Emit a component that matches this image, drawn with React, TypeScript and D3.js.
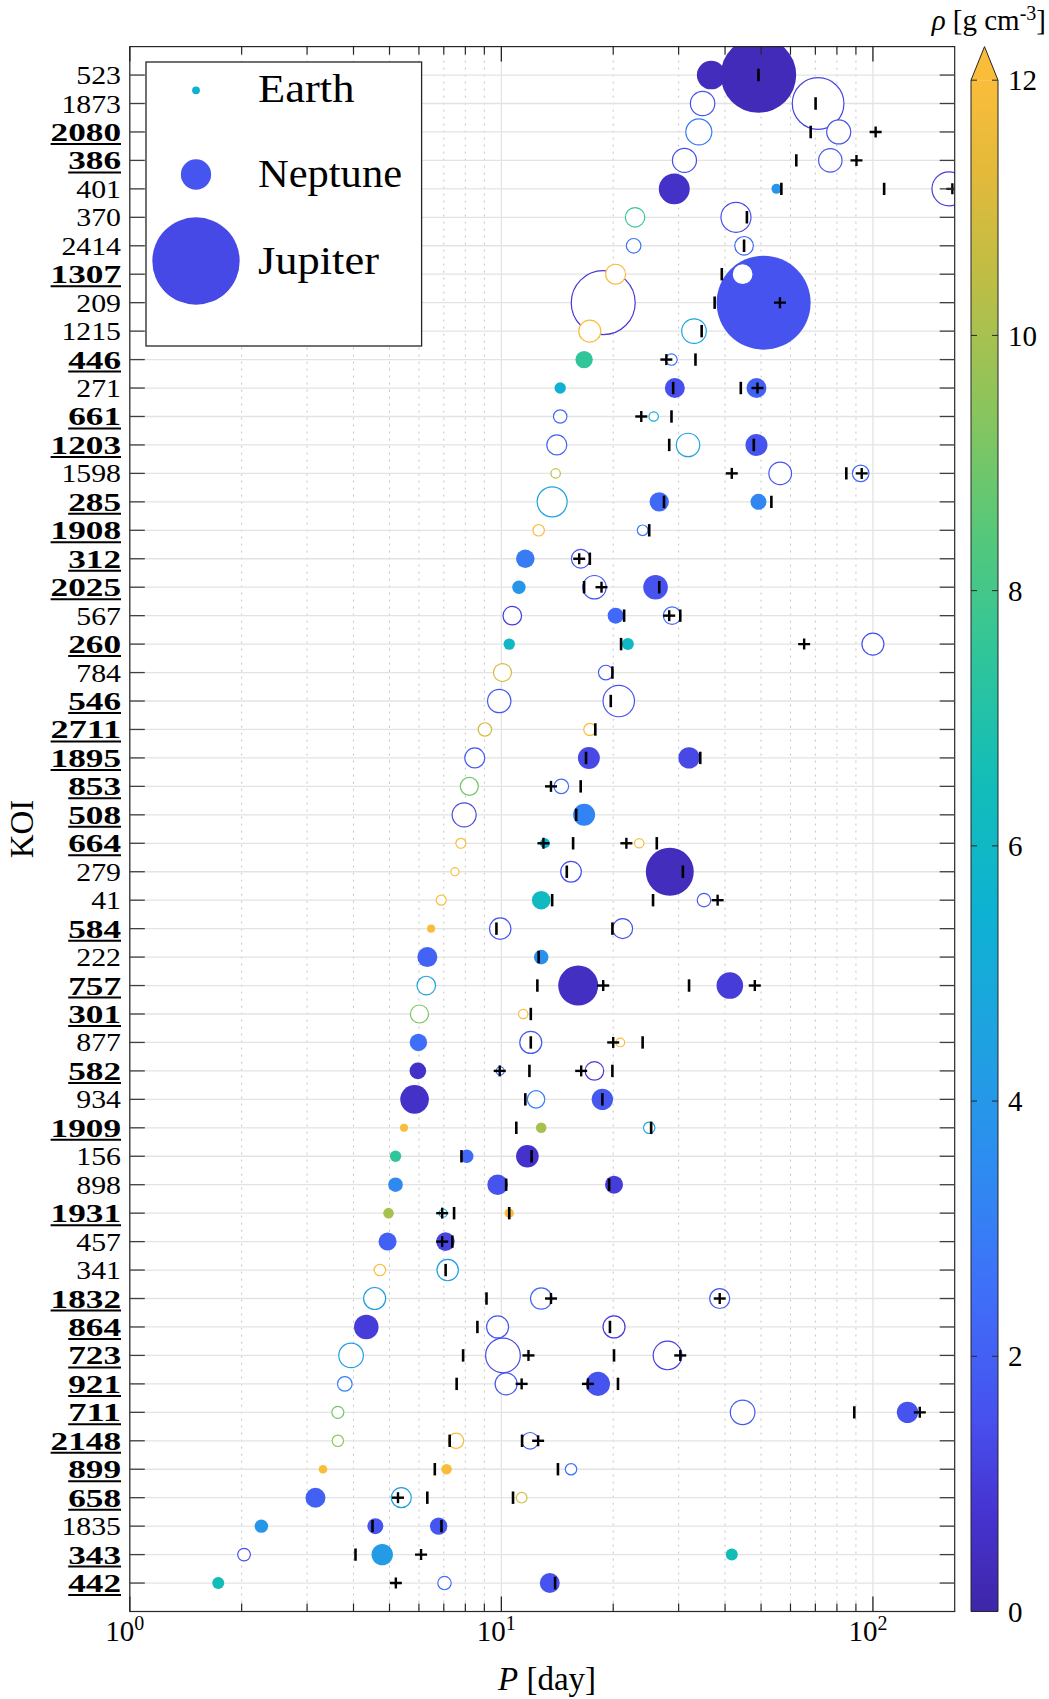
import React from 'react';
import * as d3 from 'd3';

const kois = ['523','1873','2080','386','401','370','2414','1307','209','1215','446','271','661','1203','1598','285','1908','312','2025','567','260','784','546','2711','1895','853','508','664','279','41','584','222','757','301','877','582','934','1909','156','898','1931','457','341','1832','864','723','921','711','2148','899','658','1835','343','442'];
const boldKois = ['2080','386','1307','446','661','1203','285','1908','312','2025','260','546','2711','1895','853','508','664','584','757','301','582','1909','1931','1832','864','723','921','711','2148','899','658','343','442'];

// [KOI, period (day), radius (R_earth), density (g cm^-3), filled (1) / open (0)]
const planets: [string, number, number, number, number][] = [
  ['523', 36.7, 3.67, 0.4, 1], ['523', 49.2, 9.67, 0.3, 1],
  ['1873', 34.8, 3.13, 1.5, 0], ['1873', 71.2, 6.62, 1.2, 0],
  ['2080', 34.0, 3.33, 2.8, 0], ['2080', 80.9, 3.08, 1.6, 0],
  ['386', 31.1, 3.08, 1.4, 0], ['386', 76.8, 3.0, 1.6, 0],
  ['401', 29.2, 3.97, 0.6, 1], ['401', 55.0, 1.28, 4.0, 1], ['401', 160.2, 4.36, 1.0, 0],
  ['370', 22.9, 2.49, 7.6, 0], ['370', 42.8, 3.85, 1.4, 0],
  ['2414', 22.7, 1.87, 2.6, 0], ['2414', 45.0, 2.38, 2.2, 0],
  ['1307', 20.3, 2.56, 12.5, 0], ['1307', 44.6, 2.69, 1.6, 0],
  ['209', 18.8, 8.2, 0.9, 0], ['209', 50.8, 12.05, 1.6, 1],
  ['1215', 17.3, 2.82, 12.5, 0], ['1215', 33.0, 3.15, 4.6, 0],
  ['446', 16.7, 2.23, 7.5, 1], ['446', 28.7, 1.46, 2.6, 0],
  ['271', 14.4, 1.46, 5.5, 1], ['271', 29.3, 2.56, 1.5, 1], ['271', 48.6, 2.56, 2.0, 1],
  ['661', 14.4, 1.72, 2.4, 0], ['661', 25.7, 1.2, 5.2, 0],
  ['1203', 14.1, 2.56, 2.2, 0], ['1203', 31.8, 3.0, 4.5, 0], ['1203', 48.6, 2.82, 1.6, 1],
  ['1598', 14.0, 1.2, 10.5, 0], ['1598', 56.3, 2.9, 1.6, 0], ['1598', 92.7, 2.13, 2.2, 0],
  ['285', 13.7, 3.85, 4.5, 0], ['285', 26.6, 2.49, 2.3, 1], ['285', 49.2, 2.05, 3.3, 1],
  ['1908', 12.6, 1.46, 12.5, 0], ['1908', 24.0, 1.36, 2.8, 0],
  ['312', 11.6, 2.38, 2.9, 1], ['312', 16.35, 2.38, 1.6, 0],
  ['2025', 11.15, 1.72, 4.0, 1], ['2025', 17.8, 3.0, 1.8, 0], ['2025', 26.0, 3.15, 1.6, 1],
  ['567', 10.7, 2.38, 1.0, 0], ['567', 20.3, 2.05, 2.3, 1], ['567', 28.8, 2.23, 2.2, 0],
  ['260', 10.5, 1.46, 6.0, 1], ['260', 21.9, 1.54, 6.0, 1], ['260', 100, 2.82, 1.5, 0],
  ['784', 10.07, 2.31, 11.0, 0], ['784', 19.1, 1.87, 1.8, 0],
  ['546', 9.87, 3.0, 1.8, 0], ['546', 20.7, 4.03, 1.6, 0],
  ['2711', 9.03, 1.72, 10.8, 0], ['2711', 17.3, 1.54, 12.0, 0],
  ['1895', 8.48, 2.56, 1.8, 0], ['1895', 17.2, 2.82, 1.3, 1], ['1895', 32.0, 2.74, 1.3, 1],
  ['853', 8.2, 2.31, 9.0, 0], ['853', 14.5, 1.87, 2.4, 0],
  ['508', 7.94, 3.08, 1.3, 0], ['508', 16.7, 2.82, 3.2, 1],
  ['664', 7.78, 1.28, 12.5, 0], ['664', 13.1, 1.28, 5.5, 1], ['664', 23.5, 1.2, 12.5, 0],
  ['279', 7.5, 1.03, 12.5, 0], ['279', 15.4, 2.64, 1.5, 0], ['279', 28.4, 6.15, 0.4, 1],
  ['41', 6.89, 1.28, 12.5, 0], ['41', 12.8, 2.38, 6.2, 1], ['41', 35.1, 1.72, 1.8, 0],
  ['584', 6.47, 1.03, 12.5, 1], ['584', 9.93, 2.74, 1.8, 0], ['584', 21.2, 2.56, 1.5, 0],
  ['222', 6.32, 2.56, 2.1, 1], ['222', 12.8, 1.87, 3.7, 1],
  ['757', 6.28, 2.38, 4.5, 0], ['757', 16.1, 5.13, 0.5, 1], ['757', 41.2, 3.41, 1.0, 1],
  ['301', 6.02, 2.31, 9.2, 0], ['301', 11.45, 1.2, 12.5, 0],
  ['877', 5.98, 2.23, 2.5, 1], ['877', 12.0, 2.82, 1.8, 0], ['877', 20.9, 1.1, 12.5, 0],
  ['582', 5.96, 2.13, 0.6, 1], ['582', 9.93, 1.03, 2.2, 0], ['582', 17.8, 2.38, 0.9, 0],
  ['934', 5.84, 3.67, 0.6, 1], ['934', 12.4, 2.23, 3.0, 0], ['934', 18.7, 2.74, 1.8, 1],
  ['1909', 5.47, 1.03, 12.5, 1], ['1909', 12.8, 1.36, 10.0, 1], ['1909', 25.0, 1.46, 4.5, 0],
  ['156', 5.19, 1.46, 7.5, 1], ['156', 8.07, 1.72, 2.3, 1], ['156', 11.75, 2.9, 0.7, 1],
  ['898', 5.19, 1.87, 3.4, 1], ['898', 9.77, 2.64, 1.6, 1], ['898', 20.1, 2.31, 1.0, 1],
  ['1931', 4.97, 1.36, 10.0, 1], ['1931', 6.97, 1.03, 5.5, 0], ['1931', 10.5, 1.2, 12.5, 1],
  ['457', 4.94, 2.31, 2.0, 1], ['457', 7.07, 2.38, 1.2, 1],
  ['341', 4.71, 1.46, 12.5, 0], ['341', 7.17, 2.74, 4.3, 0],
  ['1832', 4.56, 2.82, 4.3, 0], ['1832', 12.8, 2.74, 2.3, 0], ['1832', 38.7, 2.56, 1.8, 0],
  ['864', 4.33, 3.15, 1.0, 1], ['864', 9.77, 2.82, 1.8, 0], ['864', 20.1, 2.82, 0.9, 0],
  ['723', 3.94, 3.15, 4.3, 0], ['723', 10.1, 4.44, 1.3, 0], ['723', 28.0, 3.67, 1.1, 0],
  ['921', 3.79, 1.87, 3.0, 0], ['921', 10.3, 2.82, 1.8, 0], ['921', 18.2, 3.08, 1.6, 1],
  ['711', 3.63, 1.54, 9.0, 0], ['711', 44.6, 3.15, 1.8, 0], ['711', 123.9, 2.74, 1.6, 1],
  ['2148', 3.63, 1.46, 9.5, 0], ['2148', 7.55, 1.97, 12.5, 0], ['2148', 11.95, 2.13, 1.8, 0],
  ['899', 3.31, 1.1, 12.5, 1], ['899', 7.12, 1.36, 12.5, 1], ['899', 15.4, 1.46, 2.6, 0],
  ['658', 3.16, 2.56, 2.0, 1], ['658', 5.38, 2.56, 4.3, 0], ['658', 11.34, 1.36, 11.0, 0],
  ['1835', 2.26, 1.72, 4.0, 1], ['1835', 4.58, 2.05, 1.7, 1], ['1835', 6.78, 2.23, 1.7, 1],
  ['343', 2.03, 1.62, 1.4, 0], ['343', 4.78, 2.74, 4.2, 1], ['343', 41.7, 1.54, 6.5, 1],
  ['442', 1.73, 1.54, 6.5, 1], ['442', 7.03, 1.72, 2.5, 0], ['442', 13.5, 2.56, 1.6, 1],
];

// vertical-bar markers [KOI, period]
const bars: [string, number][] = [
  ['523', 49.2], ['1873', 70.1], ['2080', 68.0], ['386', 62.2], ['401', 56.7], ['401', 107.2],
  ['370', 45.8], ['2414', 45.0], ['1307', 39.2], ['209', 37.5], ['1215', 34.6], ['446', 33.3],
  ['271', 29.0], ['271', 44.1], ['661', 28.7], ['1203', 28.3], ['1203', 47.8], ['1598', 84.8],
  ['285', 27.4], ['285', 53.3], ['1908', 25.0], ['312', 17.3], ['2025', 16.7], ['2025', 26.6],
  ['567', 21.4], ['567', 30.3], ['260', 21.0], ['784', 19.9], ['546', 19.7], ['2711', 17.9],
  ['1895', 16.9], ['1895', 34.3], ['853', 16.35], ['508', 15.9], ['664', 15.6], ['664', 26.2],
  ['279', 15.0], ['279', 30.8], ['41', 13.7], ['41', 25.6], ['584', 9.7], ['584', 19.9],
  ['222', 12.6], ['757', 12.5], ['757', 32.0], ['301', 12.0], ['877', 12.0], ['877', 24.0],
  ['582', 11.9], ['582', 19.9], ['934', 11.6], ['934', 18.7], ['1909', 10.97], ['1909', 25.3],
  ['156', 7.81], ['156', 12.06], ['898', 10.3], ['898', 19.5], ['1931', 7.46], ['1931', 10.5],
  ['457', 7.38], ['341', 7.08], ['1832', 9.12], ['864', 8.62], ['864', 19.6], ['723', 7.89],
  ['723', 20.1], ['921', 7.58], ['921', 20.6], ['711', 89.1], ['2148', 7.26], ['2148', 11.37],
  ['899', 6.62], ['899', 14.2], ['658', 6.32], ['658', 10.75], ['1835', 4.5], ['1835', 6.9],
  ['343', 4.05], ['442', 13.95],
];

// plus markers [KOI, period]
const crosses: [string, number][] = [
  ['2080', 101.7], ['386', 90.3], ['401', 163.6], ['209', 56.2], ['446', 27.8], ['271', 48.9],
  ['661', 23.8], ['1598', 41.7], ['1598', 93.3], ['312', 16.2], ['2025', 18.6], ['567', 28.3],
  ['260', 65.3], ['853', 13.6], ['664', 12.98], ['664', 21.7], ['41', 38.2], ['757', 18.8],
  ['757', 48.1], ['877', 20.0], ['582', 9.9], ['582', 16.4], ['1931', 6.93], ['457', 6.93],
  ['1832', 13.6], ['1832', 38.7], ['723', 11.83], ['723', 30.3], ['921', 11.34], ['921', 17.1],
  ['711', 133.7], ['2148', 12.56], ['658', 5.27], ['343', 6.08], ['442', 5.2],
];

const legendNames = ['Earth', 'Neptune', 'Jupiter'];
const legendRadii = [1, 3.88, 11.2];
const legendDensity = [5.51, 1.64, 1.33];

const xMajorTicks = [1, 10, 100];
const xMinorTicks = [2, 3, 4, 5, 6, 7, 8, 9, 20, 30, 40, 50, 60, 70, 80, 90];
const cbTicks = [0, 2, 4, 6, 8, 10, 12];

// colour map (density -> colour)
const cmapStops = [0, 0.8, 1.5, 2.5, 3.5, 4.5, 5.5, 6.5, 7.5, 8.5, 9.5, 10.5, 11.3, 12];
const cmapColors = ['#3e26a8', '#4634d2', '#4750ee', '#3f6ff9', '#2d8cf0', '#1ea2e0', '#0db2d2', '#12bdb8', '#30c59a', '#58c878', '#8ec45a', '#c0bd44', '#e4b93a', '#f9bd3a'];

const W = 1049;
const H = 1699;
const L = 129.8, R = 954.7, T = 46.6, B = 1611.5;
const SERIF = '"Liberation Serif", "DejaVu Serif", serif';

export default function App() {
  const x = d3.scaleLog().domain([1, 166]).range([L, R]);
  const y = d3.scaleLinear().domain([0, 55]).range([T, B]);
  const rScale = d3.scaleLinear().domain([0, 1]).range([0, 3.9]);
  const color = d3.scaleLinear<string>().domain(cmapStops).range(cmapColors).interpolate(d3.interpolateRgb).clamp(true);
  const rowY = (k: string) => y(kois.indexOf(k) + 1);

  const filled = planets.filter(p => p[4] === 1);
  const open = planets.filter(p => p[4] === 0).slice().sort((a, b) => b[2] - a[2]);

  const cbL = 971, cbR = 998, cbTop = 80.2, cbTip = 46.6;
  const cbY = d3.scaleLinear().domain([0, 12]).range([B, cbTop]);
  const gradStops = d3.range(0, 12.01, 0.25);

  const fs = 29;
  const yfs = 25;
  const legendWidths = [96.5, 144, 121];

  return (
    <svg width={W} height={H} style={{ position: 'absolute', left: 0, top: 0, background: '#fff' }} fontFamily={SERIF}>
      <defs>
        <linearGradient id="cbgrad" x1="0" y1="1" x2="0" y2="0">
          {gradStops.map(v => <stop key={v} offset={v / 12} stopColor={color(v)} />)}
        </linearGradient>
        <clipPath id="plotclip"><rect x={L} y={T} width={R - L} height={B - T} /></clipPath>
      </defs>
      <rect x={0} y={0} width={W} height={H} fill="#fff" />
      {/* grid */}
      {xMinorTicks.map(t => (
        <line key={'gm' + t} x1={x(t)} x2={x(t)} y1={T} y2={B} stroke="#c4c4c4" strokeWidth={1} strokeDasharray="2,5" />
      ))}
      {xMajorTicks.map(t => (
        <line key={'gM' + t} x1={x(t)} x2={x(t)} y1={T} y2={B} stroke="#e3e3e3" strokeWidth={1.3} />
      ))}
      {kois.map((k, i) => (
        <line key={'gy' + k} x1={L} x2={R} y1={y(i + 1)} y2={y(i + 1)} stroke="#e3e3e3" strokeWidth={1.3} />
      ))}
      <g clipPath="url(#plotclip)">
        {filled.map((p, i) => (
          <circle key={'f' + i} cx={x(p[1])} cy={rowY(p[0])} r={rScale(p[2])} fill={color(p[3])} />
        ))}
        {open.map((p, i) => (
          <circle key={'o' + i} cx={x(p[1])} cy={rowY(p[0])} r={rScale(p[2])} fill="#fff" stroke={color(p[3])} strokeWidth={1.2} />
        ))}
        {bars.map((b, i) => (
          <line key={'b' + i} x1={x(b[1])} x2={x(b[1])} y1={rowY(b[0]) - 6.2} y2={rowY(b[0]) + 6.2} stroke="#000" strokeWidth={2.6} />
        ))}
        {crosses.map((c, i) => (
          <g key={'c' + i}>
            <line x1={x(c[1]) - 6} x2={x(c[1]) + 6} y1={rowY(c[0])} y2={rowY(c[0])} stroke="#000" strokeWidth={2.4} />
            <line x1={x(c[1])} x2={x(c[1])} y1={rowY(c[0]) - 5.5} y2={rowY(c[0]) + 5.5} stroke="#000" strokeWidth={2.4} />
          </g>
        ))}
      </g>
      {/* axes box */}
      <rect x={L} y={T} width={R - L} height={B - T} fill="none" stroke="#262626" strokeWidth={1.2} />
      {/* y ticks */}
      {kois.map((k, i) => (
        <g key={'yt' + k}>
          <line x1={L} x2={L + 15} y1={y(i + 1)} y2={y(i + 1)} stroke="#404040" strokeWidth={1.3} />
          <line x1={R - 15} x2={R} y1={y(i + 1)} y2={y(i + 1)} stroke="#404040" strokeWidth={1.3} />
        </g>
      ))}
      {/* x ticks */}
      {xMajorTicks.map(t => (
        <g key={'xt' + t}>
          <line x1={x(t)} x2={x(t)} y1={B} y2={B - 15} stroke="#262626" strokeWidth={1.3} />
          <line x1={x(t)} x2={x(t)} y1={T} y2={T + 15} stroke="#262626" strokeWidth={1.3} />
        </g>
      ))}
      {xMinorTicks.map(t => (
        <g key={'xm' + t}>
          <line x1={x(t)} x2={x(t)} y1={B} y2={B - 8} stroke="#262626" strokeWidth={1.2} />
          <line x1={x(t)} x2={x(t)} y1={T} y2={T + 8} stroke="#262626" strokeWidth={1.2} />
        </g>
      ))}
      {/* y tick labels */}
      {kois.map((k, i) => {
        const bold = boldKois.includes(k);
        const w = k.length * (bold ? 17.6 : 14.9);
        return (
          <g key={'yl' + k}>
            <text x={121} y={y(i + 1)} dy="0.36em" textAnchor="end" fontSize={yfs} fontWeight={bold ? 'bold' : 'normal'} fill="#000" textLength={w} lengthAdjust="spacingAndGlyphs">{k}</text>
            {bold && <line x1={121 - w} x2={121} y1={y(i + 1) + 12} y2={y(i + 1) + 12} stroke="#000" strokeWidth={2} />}
          </g>
        );
      })}
      {/* x tick labels */}
      {xMajorTicks.map(t => (
        <text key={'xl' + t} x={x(t) - 5} y={1641} textAnchor="middle" fontSize={fs} fill="#000">
          10<tspan dy={-11} fontSize={20}>{Math.round(Math.log10(t))}</tspan>
        </text>
      ))}
      {/* axis labels */}
      <text x={547} y={1690} textAnchor="middle" fontSize={33} fill="#000">
        <tspan fontStyle="italic">P</tspan> [day]
      </text>
      <text transform="translate(33,829) rotate(-90)" textAnchor="middle" fontSize={33} fill="#000">KOI</text>
      {/* legend */}
      <rect x={146} y={62} width={275.6} height={284} fill="#fff" stroke="#262626" strokeWidth={1.3} />
      {legendNames.map((n, i) => {
        const cy = [88.5, 173.5, 260][i];
        return (
          <g key={'lg' + n}>
            <circle cx={196} cy={[90.3, 174.5, 261][i]} r={rScale(legendRadii[i])} fill={color(legendDensity[i])} />
            <text x={258} y={cy} dy="0.35em" fontSize={39} fill="#000" textLength={legendWidths[i]} lengthAdjust="spacingAndGlyphs">{n}</text>
          </g>
        );
      })}
      {/* colour bar */}
      <rect x={cbL} y={cbTop} width={cbR - cbL} height={B - cbTop} fill="url(#cbgrad)" />
      <path d={`M${cbL},${cbTop} L${(cbL + cbR) / 2},${cbTip} L${cbR},${cbTop} Z`} fill={color(12)} />
      <path d={`M${cbL},${B} L${cbL},${cbTop} L${(cbL + cbR) / 2},${cbTip} L${cbR},${cbTop} L${cbR},${B} Z`} fill="none" stroke="#262626" strokeWidth={1} />
      {cbTicks.map(t => (
        <g key={'cb' + t}>
          <line x1={cbR - 6} x2={cbR} y1={cbY(t)} y2={cbY(t)} stroke="#262626" strokeWidth={1} />
          <line x1={cbL} x2={cbL + 6} y1={cbY(t)} y2={cbY(t)} stroke="#262626" strokeWidth={1} />
          <text x={1008} y={cbY(t)} dy="0.35em" fontSize={fs} fill="#000">{t}</text>
        </g>
      ))}
      <text x={1046} y={30} textAnchor="end" fontSize={29} fill="#000">
        <tspan fontStyle="italic">ρ</tspan> [g cm<tspan dy={-10} fontSize={20}>-3</tspan><tspan dy={10}>]</tspan>
      </text>
    </svg>
  );
}
